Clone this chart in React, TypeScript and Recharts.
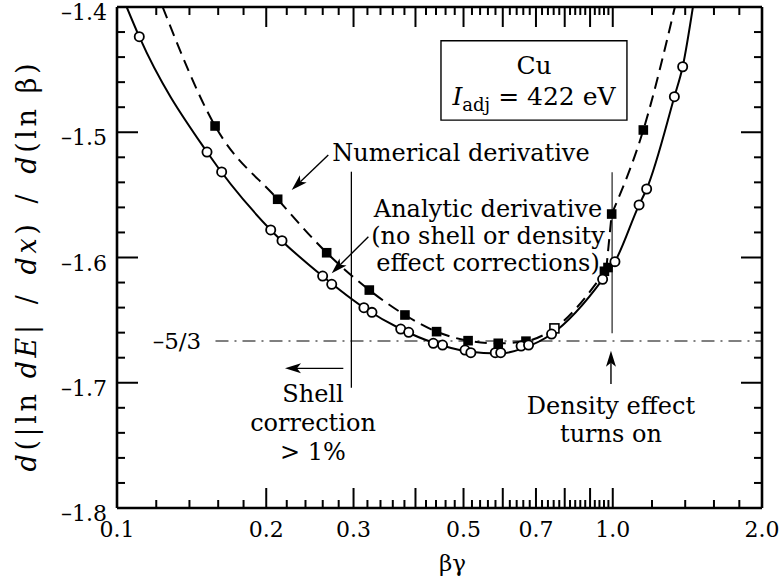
import React from 'react';
import {
  ComposedChart,
  Line,
  Scatter,
  XAxis,
  YAxis,
  ReferenceLine,
  ReferenceDot,
  ReferenceArea,
} from 'recharts';

const FONT = '"DejaVu Serif", serif';

// solid curve (analytic derivative)
const analyticCurve = [
  { x: 0.1046, y: -1.4 },
  { x: 0.1109, y: -1.4237 },
  { x: 0.1519, y: -1.5158 },
  { x: 0.2042, y: -1.578 },
  { x: 0.26, y: -1.615 },
  { x: 0.3148, y: -1.6401 },
  { x: 0.3735, y: -1.6571 },
  { x: 0.438, y: -1.6685 },
  { x: 0.51, y: -1.675 },
  { x: 0.59, y: -1.6767 },
  { x: 0.665, y: -1.672 },
  { x: 0.7526, y: -1.6611 },
  { x: 0.954, y: -1.6174 },
  { x: 1.0102, y: -1.6033 },
  { x: 1.13, y: -1.558 },
  { x: 1.1705, y: -1.5453 },
  { x: 1.3313, y: -1.4716 },
  { x: 1.3836, y: -1.4477 },
  { x: 1.451, y: -1.4 },
];

const analyticPoints = [
  { x: 0.1109, y: -1.4237 },
  { x: 0.1519, y: -1.5158 },
  { x: 0.1626, y: -1.5317 },
  { x: 0.2042, y: -1.578 },
  { x: 0.2152, y: -1.5866 },
  { x: 0.2599, y: -1.6148 },
  { x: 0.2711, y: -1.6214 },
  { x: 0.3148, y: -1.6401 },
  { x: 0.3268, y: -1.6438 },
  { x: 0.3735, y: -1.6571 },
  { x: 0.3876, y: -1.6597 },
  { x: 0.4345, y: -1.6685 },
  { x: 0.4536, y: -1.6699 },
  { x: 0.5035, y: -1.6739 },
  { x: 0.5173, y: -1.676 },
  { x: 0.5794, y: -1.676 },
  { x: 0.5943, y: -1.676 },
  { x: 0.6533, y: -1.6707 },
  { x: 0.6763, y: -1.6699 },
  { x: 0.7526, y: -1.6611 },
  { x: 0.954, y: -1.6174 },
  { x: 1.0102, y: -1.6033 },
  { x: 1.13, y: -1.558 },
  { x: 1.1705, y: -1.5453 },
  { x: 1.3313, y: -1.4716 },
  { x: 1.3836, y: -1.4477 },
];

// dashed curve (numerical derivative); it kinks where the density effect turns on
const numericCurve = [
  { x: 0.1236, y: -1.4 },
  { x: 0.1577, y: -1.495 },
  { x: 0.2109, y: -1.5535 },
  { x: 0.2648, y: -1.5962 },
  { x: 0.3228, y: -1.626 },
  { x: 0.3809, y: -1.6459 },
  { x: 0.4412, y: -1.6592 },
  { x: 0.5107, y: -1.6664 },
  { x: 0.5875, y: -1.6685 },
  { x: 0.6682, y: -1.6668 },
  { x: 0.7626, y: -1.6566 },
  { x: 0.97, y: -1.61 },
  { x: 0.995, y: -1.5653 },
  { x: 1.1525, y: -1.4982 },
  { x: 1.3345, y: -1.4 },
];
const numericLow = numericCurve.slice(0, 12);
const numericKink = numericCurve.slice(11, 13);
const numericHigh = numericCurve.slice(12);

const numericPoints = [
  { x: 0.1577, y: -1.495 },
  { x: 0.2109, y: -1.5535 },
  { x: 0.2648, y: -1.5962 },
  { x: 0.3228, y: -1.626 },
  { x: 0.3809, y: -1.6459 },
  { x: 0.4412, y: -1.6592 },
  { x: 0.5107, y: -1.6664 },
  { x: 0.5875, y: -1.6685 },
  { x: 0.6682, y: -1.6668 },
  { x: 0.962, y: -1.611 },
  { x: 0.978, y: -1.608 },
  { x: 0.995, y: -1.5653 },
  { x: 1.1525, y: -1.4982 },
];

const numericOpenPoints = [{ x: 0.7626, y: -1.6566 }];

const xMinorTicks = Array.from({ length: 46 }, (_, i) => Number((0.1 + i * 0.02).toFixed(2)));
const xTicks = [...xMinorTicks, 1.2, 1.4, 1.6, 1.8, 2.0];
const xLabelValues = [0.1, 0.2, 0.3, 0.5, 0.7, 1.0, 2.0];
const yTicks = Array.from({ length: 21 }, (_, i) => Number((-1.8 + i * 0.02).toFixed(2)));

const near = (a: number, b: number) => Math.abs(a - b) < 1e-6;
const isMajorX = (v: number) => (v <= 1.0001 && near(v * 10, Math.round(v * 10))) || near(v, 2);
const isMajorY = (v: number) => near(v * 10, Math.round(v * 10));

const BottomTick = (props: any) => {
  const { x, y, payload } = props;
  const v = payload.value;
  const len = isMajorX(v) ? 20 : 8;
  const hasLabel = xLabelValues.some((l) => near(l, v));
  return (
    <g>
      <line x1={x} y1={y} x2={x} y2={y - len} stroke="#000" strokeWidth={2} />
      {hasLabel && (
        <text x={x} y={y + 29} textAnchor="middle" fontFamily={FONT} fontSize={22} fill="#000">
          {v.toFixed(1)}
        </text>
      )}
    </g>
  );
};

const TopTick = (props: any) => {
  const { x, y, payload } = props;
  const len = isMajorX(payload.value) ? 20 : 8;
  return <line x1={x} y1={y} x2={x} y2={y + len} stroke="#000" strokeWidth={2} />;
};

const LeftTick = (props: any) => {
  const { x, y, payload } = props;
  const v = payload.value;
  const major = isMajorY(v);
  return (
    <g>
      <line x1={x} y1={y} x2={x + (major ? 21 : 8)} y2={y} stroke="#000" strokeWidth={2} />
      {major && (
        <text x={x - 10} y={y + 13} textAnchor="end" fontFamily={FONT} fontSize={22} fill="#000">
          {v.toFixed(1).replace('-', '\u2013')}
        </text>
      )}
    </g>
  );
};

const RightTick = (props: any) => {
  const { x, y, payload } = props;
  const len = isMajorY(payload.value) ? 21 : 8;
  return <line x1={x} y1={y} x2={x - len} y2={y} stroke="#000" strokeWidth={2} />;
};

const arrowShape = (p: any) => {
  const { x1, y1, x2, y2 } = p;
  const dx = x2 - x1;
  const dy = y2 - y1;
  const L = Math.hypot(dx, dy) || 1;
  const ux = dx / L;
  const uy = dy / L;
  const hl = 16;
  const hw = 5;
  const bx = x2 - ux * hl;
  const by = y2 - uy * hl;
  const nx = x2 - ux * hl * 0.75;
  const ny = y2 - uy * hl * 0.75;
  const pts = `${x2},${y2} ${bx - uy * hw},${by + ux * hw} ${nx},${ny} ${bx + uy * hw},${by - ux * hw}`;
  return (
    <g>
      <line x1={x1} y1={y1} x2={nx} y2={ny} stroke="#000" strokeWidth={1.4} />
      <polygon points={pts} fill="#000" />
    </g>
  );
};

const textBlock = (lines: string[], gap: number, size = 24) => (p: any) => (
  <text x={p.cx} y={p.cy + size * 0.36} textAnchor="middle" fontFamily={FONT} fontSize={size} fill="#000">
    {lines.map((l, i) => (
      <tspan key={i} x={p.cx} dy={i === 0 ? 0 : gap}>
        {l}
      </tspan>
    ))}
  </text>
);

const openCircle = (p: any) => (
  <circle cx={p.cx} cy={p.cy} r={4.6} fill="#fff" stroke="#000" strokeWidth={1.8} />
);
const filledSquare = (p: any) => (
  <rect x={p.cx - 4.8} y={p.cy - 4.8} width={9.6} height={9.6} fill="#000" />
);
const openSquare = (p: any) => (
  <rect x={p.cx - 4.5} y={p.cy - 4.5} width={9} height={9} fill="#fff" stroke="#000" strokeWidth={1.6} />
);

const dashedProps = {
  dataKey: 'y',
  stroke: '#000',
  strokeWidth: 2,
  strokeDasharray: '12 7',
  dot: false,
  isAnimationActive: false,
};

const SP = '\u2002';

export default function App() {
  return (
    <div style={{ position: 'absolute', left: 0, top: 0, width: 783, height: 581, background: '#fff' }}>
      <ComposedChart width={783} height={581} margin={{ top: 6, right: 20, bottom: 43, left: 57 }}>
        <XAxis
          xAxisId={0}
          dataKey="x"
          type="number"
          scale="log"
          domain={[0.1, 2]}
          allowDataOverflow
          ticks={xTicks}
          interval={0}
          tickSize={0}
          tickMargin={0}
          tickLine={false}
          tick={BottomTick}
          height={30}
          axisLine={{ stroke: '#000', strokeWidth: 2.6 }}
          label={{
            content: (p: any) => (
              <text
                x={p.viewBox.x + p.viewBox.width / 2 + 13}
                y={p.viewBox.y + 63}
                textAnchor="middle"
                fontFamily={FONT}
                fontSize={23}
              >
                βγ
              </text>
            ),
          }}
        />
        <XAxis
          xAxisId="t"
          orientation="top"
          dataKey="x"
          type="number"
          scale="log"
          domain={[0.1, 2]}
          allowDataOverflow
          ticks={xTicks}
          interval={0}
          tickSize={0}
          tickMargin={0}
          tickLine={false}
          tick={TopTick}
          height={1}
          axisLine={{ stroke: '#000', strokeWidth: 2.6 }}
        />
        <YAxis
          yAxisId={0}
          type="number"
          domain={[-1.8, -1.4]}
          allowDataOverflow
          ticks={yTicks}
          interval={0}
          tickSize={0}
          tickMargin={0}
          tickLine={false}
          tick={LeftTick}
          width={60}
          axisLine={{ stroke: '#000', strokeWidth: 2.6 }}
          label={{
            content: (p: any) => {
              const cx = 26;
              const cy = p.viewBox.y + p.viewBox.height / 2 + 10;
              return (
                <text
                  x={cx}
                  y={cy}
                  transform={`rotate(-90 ${cx} ${cy})`}
                  textAnchor="middle"
                  dominantBaseline="central"
                  fontFamily={FONT}
                  fontSize={27}
                  textLength={408}
                  lengthAdjust="spacing"
                >
                  <tspan fontStyle="italic">d</tspan>
                  <tspan>(|ln </tspan>
                  <tspan fontStyle="italic">dE</tspan>
                  <tspan>|{SP}/{SP}</tspan>
                  <tspan fontStyle="italic">dx</tspan>
                  <tspan>){SP}/{SP}</tspan>
                  <tspan fontStyle="italic">d</tspan>
                  <tspan>(ln β)</tspan>
                </text>
              );
            },
          }}
        />
        <YAxis
          yAxisId="r"
          orientation="right"
          type="number"
          domain={[-1.8, -1.4]}
          allowDataOverflow
          ticks={yTicks}
          interval={0}
          tickSize={0}
          tickMargin={0}
          tickLine={false}
          tick={RightTick}
          width={1}
          axisLine={{ stroke: '#000', strokeWidth: 2.6 }}
        />

        <ReferenceArea
          x1={0.4503}
          x2={1.0681}
          y1={-1.4903}
          y2={-1.4269}
          fill="#fff"
          fillOpacity={1}
          stroke="#000"
          strokeWidth={1.4}
        />
        <ReferenceDot
          x={0.6937}
          y={-1.4463}
          r={0}
          shape={(p: any) => (
            <text x={p.cx} y={p.cy + 9} textAnchor="middle" fontFamily={FONT} fontSize={25}>
              Cu
            </text>
          )}
        />
        <ReferenceDot
          x={0.6937}
          y={-1.4716}
          r={0}
          shape={(p: any) => (
            <text x={p.cx} y={p.cy + 8} textAnchor="middle" fontFamily={FONT} fontSize={25}>
              <tspan fontStyle="italic">I</tspan>
              <tspan fontSize={18} dy={6}>adj</tspan>
              <tspan dy={-6}> = 422 eV</tspan>
            </text>
          )}
        />

        <ReferenceLine
          segment={[{ x: 0.158, y: -5 / 3 }, { x: 2, y: -5 / 3 }]}
          stroke="#000"
          strokeWidth={1}
          strokeDasharray="13 6 2 6"
        />
        <ReferenceDot x={0.1321} y={-5 / 3} r={0} shape={textBlock(['\u20135/3'], 0, 23)} />

        <ReferenceLine
          segment={[{ x: 0.297, y: -1.5315 }, { x: 0.297, y: -1.704 }]}
          stroke="#000"
          strokeWidth={1.3}
        />
        <ReferenceLine
          segment={[{ x: 0.997, y: -1.532 }, { x: 0.997, y: -1.6605 }]}
          stroke="#333"
          strokeWidth={1.3}
        />

        <ReferenceLine segment={[{ x: 0.2668, y: -1.5182 }, { x: 0.2251, y: -1.5461 }]} shape={arrowShape} />
        <ReferenceLine segment={[{ x: 0.3214, y: -1.5834 }, { x: 0.2711, y: -1.6126 }]} shape={arrowShape} />
        <ReferenceLine segment={[{ x: 0.2861, y: -1.6885 }, { x: 0.2182, y: -1.6885 }]} shape={arrowShape} />
        <ReferenceLine segment={[{ x: 0.9917, y: -1.701 }, { x: 0.9917, y: -1.6744 }]} shape={arrowShape} />

        <ReferenceDot x={0.4941} y={-1.5158} r={0} shape={textBlock(['Numerical derivative'], 0)} />
        <ReferenceDot
          x={0.5602}
          y={-1.5605}
          r={0}
          shape={textBlock(['Analytic derivative', '(no shell or density', 'effect corrections)'], 27)}
        />
        <ReferenceDot x={0.2485} y={-1.7082} r={0} shape={textBlock(['Shell', 'correction', '> 1%'], 29)} />
        <ReferenceDot x={0.9917} y={-1.7178} r={0} shape={textBlock(['Density effect', 'turns on'], 28)} />

        <Line data={numericLow} type="monotone" {...dashedProps} />
        <Line data={numericKink} type="linear" {...dashedProps} />
        <Line data={numericHigh} type="monotone" {...dashedProps} />
        <Line
          data={analyticCurve}
          dataKey="y"
          type="monotone"
          stroke="#000"
          strokeWidth={2}
          dot={false}
          isAnimationActive={false}
        />
        <Scatter data={numericPoints} dataKey="y" shape={filledSquare} isAnimationActive={false} />
        <Scatter data={numericOpenPoints} dataKey="y" shape={openSquare} isAnimationActive={false} />
        <Scatter data={analyticPoints} dataKey="y" shape={openCircle} isAnimationActive={false} />
      </ComposedChart>
    </div>
  );
}
